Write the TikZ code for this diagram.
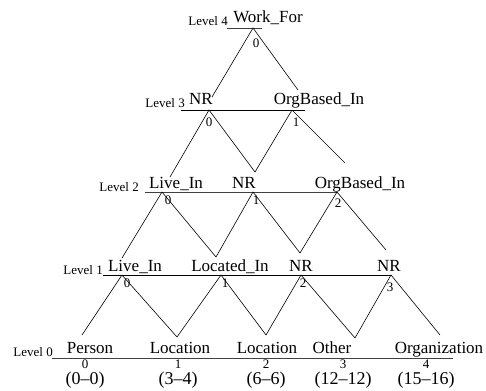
\documentclass[tikz,border=0pt]{standalone}
\usepackage{fontspec}
\setmainfont{Liberation Serif}
\begin{document}
\begin{tikzpicture}[x=1pt,y=-1pt,
  lab/.style={font=\fontsize{17}{17}\selectfont, inner sep=0pt, anchor=base},
  lvl/.style={font=\fontsize{13}{13}\selectfont, inner sep=0pt, anchor=base east},
  idx/.style={font=\fontsize{13}{13}\selectfont, inner sep=0pt},
  spn/.style={font=\fontsize{18}{18}\selectfont, inner sep=0pt, anchor=base},
  lvline/.style={line width=0.8pt, black!75},
  edge/.style={line width=0.6pt, black}]
\useasboundingbox (0,0) rectangle (486,390);

% ---- level lines ----
\coordinate (l4a) at (227,28);  \coordinate (l4b) at (262,28);
\coordinate (l3a) at (181,110); \coordinate (l3b) at (305,110);
\coordinate (l2a) at (145,192); \coordinate (l2b) at (337,192);
\coordinate (l1a) at (103,275); \coordinate (l1b) at (392,275);
\coordinate (l0a) at (52,358);  \coordinate (l0b) at (453,358);
\draw[lvline] (l4a) -- (l4b);
\draw[lvline,black] (l3a) -- (l3b);
\draw[lvline] (l2a) -- (l2b);
\draw[lvline,black] (l1a) -- (l1b);
\draw[lvline] (l0a) -- (l0b);

\node[lvl] (lv4) at (228,26) {Level 4};
\node[lvl] (lv3) at (185,108) {Level 3};
\node[lvl] (lv2) at (139,191) {Level 2};
\node[lvl] (lv1) at (103,274) {Level 1};
\node[lvl] (lv0) at (53,356) {Level 0};

% ---- level 4 ----
\node[lab] (n4) at (268,23) {Work\_For};
\coordinate (a4) at (253,28);
\node[idx] (i4) at (256,43) {0};

% ---- level 3 ----
\node[lab] (n30) at (201,105) {NR};
\node[lab] (n31) at (319,105) {OrgBased\_In};
\coordinate (a30) at (209,110); \coordinate (t30) at (212,97);
\coordinate (a31) at (292,110); \coordinate (t31) at (298,90);
\node[idx] (i30) at (209,122) {0};
\node[idx] (i31) at (296,122) {1};

% ---- level 2 ----
\node[lab] (n20) at (176,188) {Live\_In};
\node[lab] (n21) at (244,188) {NR};
\node[lab] (n22) at (360,188) {OrgBased\_In};
\coordinate (a20) at (162,192); \coordinate (t20) at (170,177);
\coordinate (a21) at (253,192); \coordinate (t21) at (255,172);
\coordinate (a22) at (337,192); \coordinate (t22) at (345,163);
\node[idx] (i20) at (168,200) {0};
\node[idx] (i21) at (256,200) {1};
\node[idx] (i22) at (338,203) {2};

% ---- level 1 ----
\node[lab] (n10) at (135,271) {Live\_In};
\node[lab] (n11) at (230,271) {Located\_In};
\node[lab] (n12) at (301,271) {NR};
\node[lab] (n13) at (389,271) {NR};
\coordinate (a10) at (122,275); \coordinate (t10) at (122,258);
\coordinate (a11) at (221,275); \coordinate (t11) at (216,257);
\coordinate (a12) at (301,275); \coordinate (t12) at (300,253);
\coordinate (a13) at (391,275); \coordinate (t13) at (386,250);
\node[idx] (i10) at (127,283) {0};
\node[idx] (i11) at (225,283) {1};
\node[idx] (i12) at (303,283) {2};
\node[idx] (i13) at (390,287) {3};

% ---- level 0 ----
\node[lab] (n00) at (90,353) {Person};
\node[lab] (n01) at (180,353) {Location};
\node[lab] (n02) at (267,353) {Location};
\node[lab] (n03) at (332,353) {Other};
\node[lab] (n04) at (439,353) {Organization};
\coordinate (t00) at (82,335);
\coordinate (t01) at (177,337);
\coordinate (t02) at (266,335);
\coordinate (t03) at (355,338);
\coordinate (t04) at (440,335);
\node[idx] (i00) at (85,364) {0};
\node[idx] (i01) at (178,364) {1};
\node[idx] (i02) at (266,364) {2};
\node[idx] (i03) at (343,364) {3};
\node[idx] (i04) at (426,364) {4};
\node[spn] (s00) at (85,384) {(0–0)};
\node[spn] (s01) at (178,384) {(3–4)};
\node[spn] (s02) at (266,384) {(6–6)};
\node[spn] (s03) at (343,384) {(12–12)};
\node[spn] (s04) at (426,384) {(15–16)};

% ---- edges ----
\draw[edge] (t30) -- (a4) -- (t31);
\draw[edge] (t20) -- (a30) -- (t21);
\draw[edge] (t21) -- (a31) -- (t22);
\draw[edge] (t10) -- (a20) -- (t11);
\draw[edge] (t11) -- (a21) -- (t12);
\draw[edge] (t12) -- (a22) -- (t13);
\draw[edge] (t00) -- (a10) -- (t01);
\draw[edge] (t01) -- (a11) -- (t02);
\draw[edge] (t02) -- (a12) -- (t03);
\draw[edge] (t03) -- (a13) -- (t04);
\end{tikzpicture}
\end{document}
